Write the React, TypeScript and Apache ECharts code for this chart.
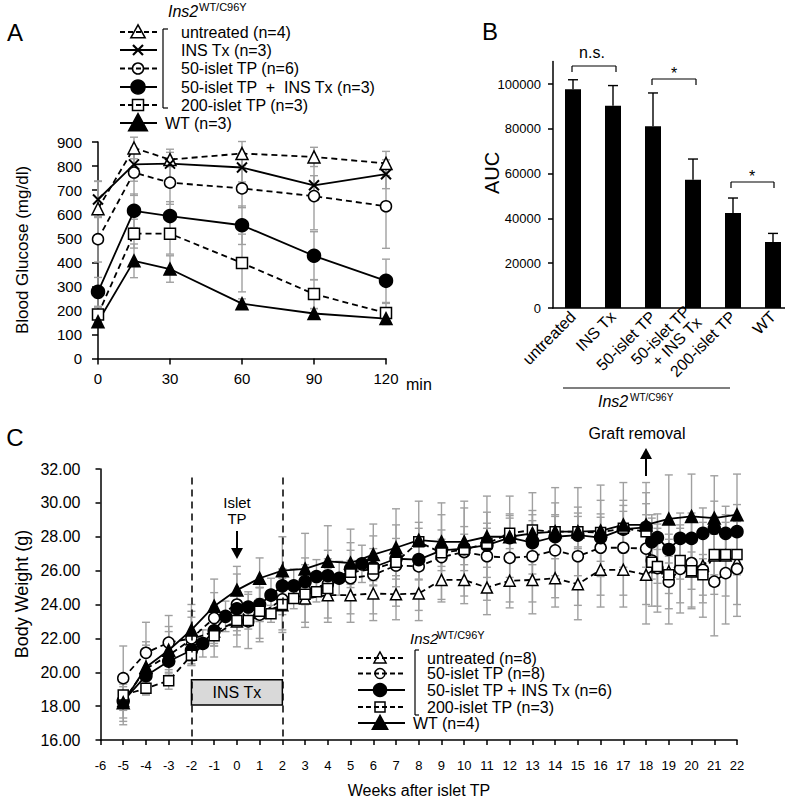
import React, { useEffect, useRef } from "react";
import * as echarts from "echarts";

// ---------------- Panel A : glucose tolerance test ----------------
const timesA = [0, 15, 30, 60, 90, 120];
const untreatedA = [623, 875, 827, 852, 838, 811];
const insTxA = [661, 807, 810, 794, 720, 766];
const islet50A = [496, 773, 731, 707, 675, 633];
const islet50InsA = [277, 614, 592, 554, 427, 323];
const islet200A = [183, 519, 519, 397, 268, 189];
const wtA = [153, 406, 372, 228, 187, 166];
const untreatedAErr = [115, 45, 30, 50, 40, 50];
const insTxAErr = [75, 70, 60, 60, 40, 60];
const islet50AErr = [95, 95, 90, 80, 140, 175];
const islet50InsAErr = [60, 70, 60, 80, 100, 90];
const islet200AErr = [30, 60, 85, 120, 60, 40];
const wtAErr = [15, 70, 55, 20, 20, 25];
const legendA = [
  "untreated (n=4)",
  "INS Tx (n=3)",
  "50-islet TP (n=6)",
  "50-islet TP  +  INS Tx (n=3)",
  "200-islet TP (n=3)",
  "WT (n=3)",
];

// ---------------- Panel B : AUC ----------------
const catsB = ["untreated", "INS Tx", "50-islet TP", "50-islet TP\n+ INS Tx", "200-islet TP", "WT"];
const aucB = [97700, 90300, 81100, 57300, 42400, 29500];
const aucErrB = [4200, 9000, 14900, 9200, 6700, 3800];
const ticksB = [0, 20000, 40000, 60000, 80000, 100000];

// ---------------- Panel C : body weight ----------------
const untreatedW = [-5, -4, -3, -2, -1, 0, 1, 2, 3, 4, 5, 6, 7, 8, 9, 10, 11, 12, 13, 14, 15, 16, 17, 18, 18.5, 19, 19.5, 20, 20.5, 21, 21.5, 22];
const untreatedM = [18.3, 20.2, 21.0, 21.95, 22.4, 23.0, 23.5, 23.95, 24.35, 24.55, 24.55, 24.65, 24.6, 24.65, 25.45, 25.45, 25.0, 25.4, 25.45, 25.55, 25.2, 26.05, 26.05, 25.75, 26.2, 25.95, 26.3, 25.95, 26.3, 26.9, 26.9, 26.5];
const untreatedSd = [1.2, 1.4, 1.4, 1.3, 1.5, 1.5, 1.5, 1.6, 1.7, 1.6, 1.6, 1.6, 1.5, 1.6, 1.3, 1.4, 1.6, 1.6, 2.0, 1.7, 2.1, 2.2, 2.2, 2.9, 2.3, 2.2, 2.2, 2.1, 2.2, 2.3, 2.4, 2.5];

const islet50W = [-5, -4, -3, -2, -1, 0, 0.5, 1, 2, 3, 4, 5, 6, 7, 8, 9, 10, 11, 12, 13, 14, 15, 16, 17, 18, 18.25, 18.5, 19, 19.5, 20, 20.5, 21, 21.5, 22];
const islet50M = [19.65, 21.15, 21.75, 22.0, 23.2, 24.0, 23.0, 23.4, 24.3, 24.85, 25.2, 25.55, 25.75, 26.3, 26.25, 26.8, 27.1, 26.85, 26.75, 26.85, 27.2, 26.85, 27.35, 27.35, 27.3, 26.6, 26.15, 25.35, 26.1, 26.45, 26.05, 25.35, 25.85, 26.1];
const islet50Sd = [1.9, 1.8, 1.6, 1.6, 1.5, 1.8, 1.6, 1.6, 1.8, 1.9, 2.0, 2.1, 2.3, 2.4, 2.6, 2.5, 2.6, 2.6, 2.6, 2.7, 2.8, 2.9, 2.8, 2.8, 3.3, 2.7, 2.6, 2.5, 2.6, 2.7, 2.8, 3.2, 3.0, 2.8];

const islet50InsW = [-5, -4, -3, -2, -1.5, -1, -0.5, 0, 0.5, 1, 1.5, 2, 2.5, 3, 3.5, 4, 4.5, 5, 5.5, 6, 7, 8, 9, 10, 11, 12, 13, 14, 15, 16, 17, 18, 18.25, 18.5, 19, 19.5, 20, 20.5, 21, 21.5, 22];
const islet50InsM = [18.3, 19.8, 20.65, 21.3, 21.7, 22.45, 23.3, 23.75, 23.85, 24.0, 24.55, 25.1, 25.1, 25.35, 25.65, 25.7, 25.55, 26.1, 26.4, 26.2, 26.7, 26.65, 27.2, 27.3, 27.5, 27.95, 27.65, 28.0, 28.1, 27.95, 28.45, 28.55, 27.7, 27.95, 27.25, 27.9, 27.9, 28.2, 28.5, 28.2, 28.3];
const islet50InsSd = [1.0, 1.1, 1.0, 0.9, 0.8, 0.9, 0.9, 0.9, 0.9, 1.0, 1.0, 1.0, 1.0, 1.0, 1.0, 1.0, 1.0, 1.1, 1.1, 1.1, 1.2, 1.2, 1.2, 1.3, 1.3, 1.3, 1.3, 1.3, 1.3, 1.4, 1.4, 1.4, 1.4, 1.4, 1.5, 1.5, 1.5, 1.5, 1.6, 1.6, 1.6];

const islet200W = [-5, -4, -3, -2, -1, 0, 0.5, 1, 1.5, 2, 2.5, 3, 3.5, 4, 5, 6, 7, 8, 9, 10, 11, 12, 13, 14, 15, 16, 17, 18, 18.25, 18.5, 19, 19.5, 20, 20.5, 21, 21.5, 22];
const islet200M = [18.65, 19.05, 19.5, 21.0, 22.15, 23.05, 23.05, 23.6, 23.45, 24.0, 24.35, 24.6, 24.75, 24.95, 25.9, 26.1, 26.5, 27.7, 27.05, 27.25, 27.6, 28.2, 28.4, 28.3, 28.3, 28.25, 28.5, 28.3, 26.5, 26.25, 25.75, 26.6, 26.0, 25.75, 26.95, 26.95, 26.95];
const islet200Sd = [0.5, 0.4, 0.5, 0.5, 0.6, 0.6, 0.5, 0.6, 0.5, 0.6, 0.6, 0.6, 0.6, 0.7, 0.7, 0.7, 0.8, 0.8, 0.8, 0.9, 0.9, 0.9, 0.9, 0.9, 0.9, 0.9, 1.0, 1.0, 1.0, 1.0, 1.1, 1.1, 1.1, 1.2, 1.2, 1.2, 1.2];

const wtW = [-5, -4, -3, -2, -1, 0, 1, 2, 3, 4, 5, 6, 7, 8, 9, 10, 11, 12, 13, 14, 15, 16, 17, 18, 19, 20, 21, 22];
const wtM = [18.2, 20.3, 21.3, 22.5, 23.9, 24.85, 25.55, 26.0, 26.1, 26.55, 26.45, 26.95, 27.35, 27.8, 27.7, 27.7, 28.0, 28.0, 28.2, 28.3, 28.3, 28.35, 28.7, 28.7, 29.05, 29.2, 29.1, 29.3];
const wtSd = [1.3, 1.5, 1.4, 1.5, 1.6, 1.4, 1.2, 2.0, 2.1, 2.1, 2.0, 1.8, 2.3, 2.3, 2.3, 2.4, 2.4, 2.4, 2.4, 2.6, 2.6, 2.7, 2.5, 2.5, 2.6, 2.5, 2.5, 2.4];

const legendC = ["untreated (n=8)", "50-islet TP (n=8)", "50-islet TP + INS Tx (n=6)", "200-islet TP (n=3)", "WT (n=4)"];
const insTxWindow = [-2, 2];
const insTxLabel = "INS Tx";

// ---------------- helpers ----------------
const FONT = "'Liberation Sans', Arial, Helvetica, sans-serif";
const GRAY = "#a0a0a0";
const DASH = [6, 4];

type Mk = "triOpen" | "triFill" | "circOpen" | "circFill" | "square" | "cross";

const SYMBOL: Record<Mk, string> = {
  triOpen: "triangle",
  triFill: "triangle",
  circOpen: "circle",
  circFill: "circle",
  square: "rect",
  cross: "path://M0 0L10 10M10 0L0 10",
};

function lineSeries(idx: number, xs: number[], ys: number[], mk: Mk, dashed: boolean, size: number, extra: any = {}) {
  const filled = mk === "triFill" || mk === "circFill" || mk === "cross";
  return {
    type: "line",
    xAxisIndex: idx,
    yAxisIndex: idx,
    z: 3,
    clip: false,
    silent: true,
    data: xs.map((x, i) => [x, ys[i]]),
    symbol: SYMBOL[mk],
    symbolSize: size,
    showSymbol: true,
    showAllSymbol: true,
    lineStyle: { color: "#000", width: 1.8, type: dashed ? DASH : "solid" },
    itemStyle: { color: filled ? "#000" : "#fff", borderColor: "#000", borderWidth: mk === "cross" ? 2 : 1.5 },
    emphasis: { disabled: true },
    ...extra,
  };
}

function errSeries(idx: number, xs: number[], ys: number[], es: number[], color: string, cap: number, upOnly = false) {
  return {
    type: "custom",
    xAxisIndex: idx,
    yAxisIndex: idx,
    z: 1,
    silent: true,
    clip: false,
    encode: { x: 0, y: [1, 2] },
    data: xs.map((x, i) => [x, upOnly ? ys[i] : ys[i] - es[i], ys[i] + es[i]]),
    renderItem: (_p: any, api: any) => {
      const x = api.value(0);
      const lo = api.coord([x, api.value(1)]);
      const hi = api.coord([x, api.value(2)]);
      const style = { stroke: color, lineWidth: 1.4, fill: "none" };
      const children: any[] = [
        { type: "line", shape: { x1: lo[0], y1: lo[1], x2: hi[0], y2: hi[1] }, style },
        { type: "line", shape: { x1: hi[0] - cap, y1: hi[1], x2: hi[0] + cap, y2: hi[1] }, style },
      ];
      if (!upOnly) children.push({ type: "line", shape: { x1: lo[0] - cap, y1: lo[1], x2: lo[0] + cap, y2: lo[1] }, style });
      return { type: "group", children };
    },
  };
}

function txt(x: number, y: number, text: string, size: number, o: any = {}) {
  const align = o.align || "left";
  const va = o.va || "middle";
  return {
    type: "text",
    x,
    y,
    silent: true,
    rotation: o.rot || 0,
    style: {
      text,
      fontSize: size,
      fontFamily: FONT,
      fontStyle: o.italic ? "italic" : "normal",
      fill: "#000",
      align,
      verticalAlign: va,
      textAlign: align,
      textVerticalAlign: va,
    },
  };
}

function ln(x1: number, y1: number, x2: number, y2: number, w = 1.5, dash?: number[]) {
  return { type: "line", silent: true, shape: { x1, y1, x2, y2 }, style: { stroke: "#000", lineWidth: w, lineDash: dash || null } };
}

function mark(mk: Mk, cx: number, cy: number, s: number): any[] {
  const st = (fill: string) => ({ fill, stroke: "#000", lineWidth: 1.5 });
  const tri = [
    [cx, cy - s * 0.55],
    [cx - s * 0.55, cy + s * 0.45],
    [cx + s * 0.55, cy + s * 0.45],
  ];
  switch (mk) {
    case "triOpen":
      return [{ type: "polygon", silent: true, shape: { points: tri }, style: st("none") }];
    case "triFill":
      return [{ type: "polygon", silent: true, shape: { points: tri }, style: st("#000") }];
    case "circOpen":
      return [{ type: "circle", silent: true, shape: { cx, cy, r: s / 2 }, style: st("none") }];
    case "circFill":
      return [{ type: "circle", silent: true, shape: { cx, cy, r: s / 2 }, style: st("#000") }];
    case "square":
      return [{ type: "rect", silent: true, shape: { x: cx - s / 2, y: cy - s / 2, width: s, height: s }, style: st("none") }];
    case "cross":
      return [ln(cx - s / 2, cy - s / 2, cx + s / 2, cy + s / 2, 2.2), ln(cx - s / 2, cy + s / 2, cx + s / 2, cy - s / 2, 2.2)];
  }
  return [];
}

function legendRow(y: number, x1: number, x2: number, cx: number, mk: Mk, dashed: boolean, size: number, label: string, tx: number, fs: number) {
  return [ln(x1, y, x2, y, 2, dashed ? [5, 3] : undefined), ...mark(mk, cx, y, size), txt(tx, y, label, fs)];
}

const axisLine = { show: true, onZero: false, lineStyle: { color: "#000", width: 1.5 } };
const axisTick = (len: number) => ({ show: true, length: len, lineStyle: { color: "#000", width: 1.5 } });
const lbl = (size: number, margin: number, extra: any = {}) => ({ color: "#000", fontSize: size, fontFamily: FONT, margin, ...extra });

export default function App() {
  const ref = useRef<HTMLDivElement>(null);
  useEffect(() => {
    document.body.style.margin = "0";
    if (!ref.current) return;
    const chart = echarts.init(ref.current, null, { renderer: "svg" });

    const mksA: Mk[] = ["triOpen", "cross", "circOpen", "circFill", "square", "triFill"];
    const dashA = [true, false, true, false, true, false];
    const rowsA = [32, 50, 68.5, 87, 105, 123];
    const sizesA = [13, 10, 11, 14, 11, 17];

    const mksC: Mk[] = ["triOpen", "circOpen", "circFill", "square", "triFill"];
    const dashC = [true, true, false, true, false];
    const rowsC = [658, 673.5, 690, 707, 723];
    const sizesC = [11, 10, 13, 10, 14];

    const graphic: any[] = [
      // Panel A
      txt(15, 32, "A", 24, { align: "center" }),
      txt(168, 11, "Ins2", 16, { italic: true }),
      txt(199, 7, "WT/C96Y", 11),
      ln(163, 29, 163, 108, 1.2),
      ln(163, 29, 168, 29, 1.2),
      ln(163, 108, 168, 108, 1.2),
      ...legendA.flatMap((t, i) =>
        legendRow(rowsA[i], 120, 157, 138, mksA[i], dashA[i], sizesA[i], t, i === 5 ? 165 : 181, 16)
      ),
      txt(22, 250, "Blood Glucose (mg/dl)", 17, { align: "center", rot: Math.PI / 2 }),
      txt(406, 384, "min", 16),
      // Panel B
      txt(490, 31, "B", 24, { align: "center" }),
      txt(492, 173, "AUC", 20, { align: "center", rot: Math.PI / 2 }),
      ln(572, 66, 616, 66, 1.2),
      ln(572, 66, 572, 72, 1.2),
      ln(616, 66, 616, 72, 1.2),
      txt(592, 52, "n.s.", 16, { align: "center" }),
      ln(652, 79, 696, 79, 1.2),
      ln(652, 79, 652, 85, 1.2),
      ln(696, 79, 696, 85, 1.2),
      txt(674, 73, "*", 16, { align: "center" }),
      ln(731, 182, 774, 182, 1.2),
      ln(731, 182, 731, 188, 1.2),
      ln(774, 182, 774, 188, 1.2),
      txt(752, 176, "*", 16, { align: "center" }),
      ln(563, 388, 730, 388, 1.2),
      txt(598, 401, "Ins2", 16, { italic: true }),
      txt(630, 397, "WT/C96Y", 10),
      // Panel C
      txt(15, 437, "C", 24, { align: "center" }),
      txt(22, 594, "Body Weight (g)", 18, { align: "center", rot: Math.PI / 2 }),
      txt(419, 790, "Weeks after islet TP", 16, { align: "center" }),
      txt(237, 502, "Islet", 15, { align: "center" }),
      txt(237, 518, "TP", 15, { align: "center" }),
      ln(237, 531, 237, 550, 2),
      { type: "polygon", silent: true, shape: { points: [[231, 548], [243, 548], [237, 559]] }, style: { fill: "#000" } },
      txt(637, 433, "Graft removal", 16, { align: "center" }),
      ln(646, 476, 646, 457, 2),
      { type: "polygon", silent: true, shape: { points: [[640, 459], [652, 459], [646, 448]] }, style: { fill: "#000" } },
      txt(410, 638, "Ins2", 15, { italic: true }),
      txt(437, 635, "WT/C96Y", 11),
      ln(415, 650, 415, 715, 1.2),
      ln(415, 650, 419, 650, 1.2),
      ln(415, 715, 419, 715, 1.2),
      ...legendC.flatMap((t, i) =>
        legendRow(rowsC[i], 358, 405, 380, mksC[i], dashC[i], sizesC[i], t, i === 4 ? 413 : 427, 16)
      ),
    ];

    const option: any = {
      animation: false,
      backgroundColor: "#fff",
      textStyle: { fontFamily: FONT },
      grid: [
        { left: 98, top: 142, width: 288, height: 216.5, containLabel: false, outerBoundsMode: "none" },
        { left: 553, top: 61.6, width: 240, height: 246.4, containLabel: false, outerBoundsMode: "none" },
        { left: 100.5, top: 469, width: 636.5, height: 271, containLabel: false, outerBoundsMode: "none" },
      ],
      xAxis: [
        {
          gridIndex: 0, type: "value", min: 0, max: 120, interval: 30,
          axisLine, axisTick: axisTick(6), splitLine: { show: false },
          axisLabel: lbl(15, 12),
        },
        {
          gridIndex: 1, type: "category", data: catsB,
          axisLine, axisTick: { show: false }, splitLine: { show: false },
          axisLabel: lbl(16, 6, { rotate: 45, interval: 0, lineHeight: 16 }),
        },
        {
          gridIndex: 2, type: "value", min: -6, max: 22, interval: 1,
          axisLine, axisTick: axisTick(5), splitLine: { show: false },
          axisLabel: lbl(13, 19, { formatter: (v: number) => String(v) }),
        },
      ],
      yAxis: [
        {
          gridIndex: 0, type: "value", min: 0, max: 900, interval: 100,
          axisLine, axisTick: axisTick(6), splitLine: { show: false },
          axisLabel: lbl(15, 16),
        },
        {
          gridIndex: 1, type: "value", min: 0, max: 110000, interval: 20000,
          axisLine, splitLine: { show: false },
          axisTick: { ...axisTick(5), customValues: ticksB },
          axisLabel: lbl(13, 12, { customValues: ticksB, formatter: (v: number) => (v > 100000 ? "" : String(v)) }),
        },
        {
          gridIndex: 2, type: "value", min: 16, max: 32, interval: 2,
          axisLine, axisTick: axisTick(5), splitLine: { show: false },
          axisLabel: lbl(16, 20, { formatter: (v: number) => v.toFixed(2) }),
        },
      ],
      series: [
        // A error bars
        errSeries(0, timesA, untreatedA, untreatedAErr, GRAY, 4),
        errSeries(0, timesA, insTxA, insTxAErr, GRAY, 4),
        errSeries(0, timesA, islet50A, islet50AErr, GRAY, 4),
        errSeries(0, timesA, islet50InsA, islet50InsAErr, GRAY, 4),
        errSeries(0, timesA, islet200A, islet200AErr, GRAY, 4),
        errSeries(0, timesA, wtA, wtAErr, GRAY, 4),
        // A lines
        lineSeries(0, timesA, untreatedA, "triOpen", true, 12),
        lineSeries(0, timesA, insTxA, "cross", false, 10),
        lineSeries(0, timesA, islet50A, "circOpen", true, 11),
        lineSeries(0, timesA, islet50InsA, "circFill", false, 13),
        lineSeries(0, timesA, islet200A, "square", true, 11),
        lineSeries(0, timesA, wtA, "triFill", false, 12),
        // B bars
        {
          type: "bar", xAxisIndex: 1, yAxisIndex: 1, data: aucB, barWidth: 16, z: 2, silent: true,
          itemStyle: { color: "#000" },
        },
        errSeries(1, catsB.map((_, i) => i), aucB, aucErrB, "#000", 5, true),
        // C error bars
        errSeries(2, untreatedW, untreatedM, untreatedSd, GRAY, 4),
        errSeries(2, islet50W, islet50M, islet50Sd, GRAY, 4),
        errSeries(2, islet50InsW, islet50InsM, islet50InsSd, GRAY, 4),
        errSeries(2, islet200W, islet200M, islet200Sd, GRAY, 4),
        errSeries(2, wtW, wtM, wtSd, GRAY, 4),
        // C lines
        lineSeries(2, untreatedW, untreatedM, "triOpen", true, 11, {
          markLine: {
            silent: true,
            symbol: ["none", "none"],
            label: { show: false },
            lineStyle: { color: "#000", width: 1.5, type: [7, 5] },
            data: insTxWindow.map((w) => [{ coord: [w, 31.5] }, { coord: [w, 16] }]),
          },
          markArea: {
            silent: true,
            itemStyle: { color: "#d9d9d9", borderColor: "#000", borderWidth: 1.5 },
            label: { show: true, position: "inside", color: "#000", fontSize: 16, fontFamily: FONT, formatter: insTxLabel },
            data: [[{ coord: [insTxWindow[0], 19.55] }, { coord: [insTxWindow[1], 18.07] }]],
          },
        }),
        lineSeries(2, islet50W, islet50M, "circOpen", true, 11),
        lineSeries(2, islet50InsW, islet50InsM, "circFill", false, 12),
        lineSeries(2, islet200W, islet200M, "square", true, 10),
        lineSeries(2, wtW, wtM, "triFill", false, 12),
      ],
      graphic,
    };
    chart.setOption(option);
    return () => chart.dispose();
  }, []);
  return <div ref={ref} style={{ width: 785, height: 803 }} />;
}
